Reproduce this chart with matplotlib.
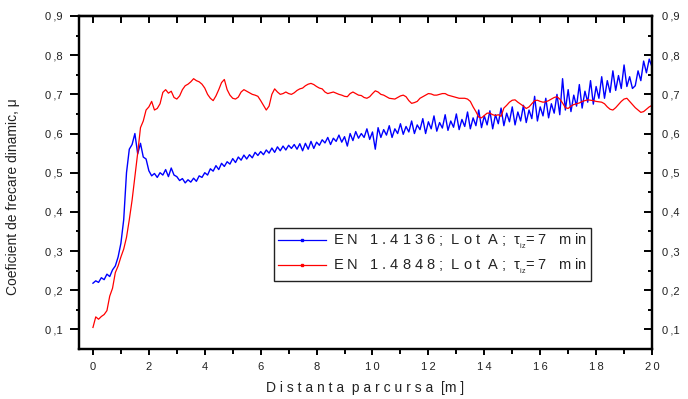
import numpy as np
import matplotlib.pyplot as plt
from matplotlib.lines import Line2D
from matplotlib.ticker import MultipleLocator, FixedLocator

plt.rcParams['font.family'] = ['Liberation Sans', 'DejaVu Sans']
plt.rcParams['mathtext.fontset'] = 'custom'
plt.rcParams['mathtext.rm'] = 'Liberation Sans'

# distanta parcursa [m], pas de 0.1 m
distanta = np.linspace(0, 20, 201)

# EN 1.4136; Lot A
mu_4136 = [
    0.218, 0.224, 0.220, 0.232, 0.227, 0.241, 0.235, 0.252, 0.262, 0.285,
    0.320, 0.380, 0.500, 0.560, 0.572, 0.600, 0.548, 0.575, 0.540, 0.535,
    0.505, 0.492, 0.498, 0.488, 0.500, 0.494, 0.508, 0.490, 0.512, 0.494,
    0.490, 0.480, 0.485, 0.474, 0.482, 0.476, 0.486, 0.478, 0.492, 0.488,
    0.500, 0.494, 0.510, 0.504, 0.518, 0.508, 0.524, 0.516, 0.528, 0.522,
    0.536, 0.526, 0.540, 0.532, 0.545, 0.535, 0.546, 0.538, 0.552, 0.544,
    0.554, 0.546, 0.558, 0.550, 0.563, 0.552, 0.566, 0.556, 0.568, 0.558,
    0.570, 0.562, 0.572, 0.560, 0.574, 0.556, 0.575, 0.560, 0.580, 0.562,
    0.578, 0.570, 0.584, 0.576, 0.590, 0.572, 0.588, 0.580, 0.596, 0.578,
    0.592, 0.568, 0.600, 0.582, 0.605, 0.588, 0.600, 0.590, 0.612, 0.585,
    0.604, 0.560, 0.615, 0.590, 0.610, 0.596, 0.620, 0.590, 0.612, 0.600,
    0.625, 0.598, 0.618, 0.604, 0.632, 0.600, 0.622, 0.610, 0.638, 0.600,
    0.630, 0.612, 0.645, 0.606, 0.628, 0.614, 0.648, 0.608, 0.632, 0.616,
    0.650, 0.610, 0.636, 0.618, 0.655, 0.612, 0.640, 0.620, 0.660, 0.615,
    0.645, 0.622, 0.658, 0.612, 0.648, 0.625, 0.665, 0.620, 0.652, 0.630,
    0.668, 0.622, 0.655, 0.632, 0.672, 0.628, 0.660, 0.638, 0.695, 0.632,
    0.668, 0.645, 0.690, 0.640, 0.676, 0.652, 0.700, 0.648, 0.740, 0.660,
    0.712, 0.656, 0.698, 0.670, 0.725, 0.665, 0.708, 0.680, 0.735, 0.675,
    0.720, 0.690, 0.745, 0.690, 0.735, 0.705, 0.760, 0.710, 0.748, 0.715,
    0.775, 0.720, 0.745, 0.715, 0.722, 0.760, 0.735, 0.785, 0.755, 0.790,
    0.770,
]

# EN 1.4848; Lot A
mu_4848 = [
    0.105, 0.132, 0.126, 0.133, 0.138, 0.148, 0.185, 0.205, 0.245, 0.262,
    0.285, 0.305, 0.335, 0.380, 0.430, 0.490, 0.550, 0.615, 0.632, 0.660,
    0.668, 0.682, 0.660, 0.664, 0.676, 0.705, 0.712, 0.703, 0.708, 0.692,
    0.688, 0.696, 0.712, 0.722, 0.726, 0.732, 0.740, 0.735, 0.732, 0.726,
    0.716, 0.700, 0.690, 0.684, 0.696, 0.712, 0.730, 0.738, 0.712, 0.698,
    0.690, 0.688, 0.693, 0.706, 0.712, 0.708, 0.704, 0.700, 0.698, 0.695,
    0.684, 0.672, 0.660, 0.670, 0.700, 0.714, 0.706, 0.700, 0.702, 0.706,
    0.702, 0.700, 0.704, 0.710, 0.714, 0.716, 0.722, 0.726, 0.728, 0.725,
    0.720, 0.716, 0.714, 0.706, 0.702, 0.704, 0.706, 0.703, 0.700, 0.698,
    0.695, 0.694, 0.702, 0.706, 0.702, 0.698, 0.697, 0.692, 0.690, 0.694,
    0.702, 0.709, 0.706, 0.700, 0.698, 0.694, 0.690, 0.689, 0.688, 0.692,
    0.696, 0.698, 0.694, 0.684, 0.677, 0.679, 0.682, 0.690, 0.694, 0.698,
    0.702, 0.701, 0.698, 0.698, 0.700, 0.702, 0.702, 0.698, 0.696, 0.694,
    0.692, 0.690, 0.690, 0.690, 0.688, 0.682, 0.668, 0.656, 0.642, 0.640,
    0.646, 0.652, 0.652, 0.648, 0.646, 0.648, 0.644, 0.665, 0.672, 0.680,
    0.685, 0.686, 0.680, 0.675, 0.670, 0.664, 0.668, 0.676, 0.684, 0.685,
    0.682, 0.680, 0.681, 0.684, 0.688, 0.692, 0.694, 0.688, 0.678, 0.666,
    0.664, 0.670, 0.674, 0.676, 0.678, 0.682, 0.684, 0.686, 0.685, 0.684,
    0.682, 0.681, 0.680, 0.676, 0.668, 0.662, 0.660, 0.666, 0.674, 0.682,
    0.688, 0.690, 0.682, 0.674, 0.666, 0.660, 0.654, 0.656, 0.662, 0.668,
    0.672,
]

x_ticks = [0, 2, 4, 6, 8, 10, 12, 14, 16, 18, 20]
x_tick_labels = ['0', '2', '4', '6', '8', '1\u20090', '1\u20092', '1\u20094',
                 '1\u20096', '1\u20098', '2\u20090']
y_ticks = [0.1, 0.2, 0.3, 0.4, 0.5, 0.6, 0.7, 0.8, 0.9]
y_tick_labels = ['0\u2009,1', '0\u2009,2', '0\u2009,3', '0\u2009,4', '0\u2009,5',
                 '0\u2009,6', '0\u2009,7', '0\u2009,8', '0\u2009,9']

etichete = ['E N   1 . 4 1 3 6 ;  L o t  A ;  $\\mathregular{\\tau_{_{iz}}}$= 7   m in',
            'E N   1 . 4 8 4 8 ;  L o t  A ;  $\\mathregular{\\tau_{_{iz}}}$= 7   m in']
culori = ['#0000ff', '#ff0000']

fig = plt.figure(figsize=(6.88, 3.99), dpi=100)
ax = fig.add_axes([0.1148, 0.1253, 0.8329, 0.8346])

ax.plot(distanta, mu_4136, color=culori[0], lw=1.0)
ax.plot(distanta, mu_4848, color=culori[1], lw=0.9)

ax.set_xlim(-0.5, 20)
ax.set_ylim(0.05, 0.9)

for s in ax.spines.values():
    s.set_linewidth(1.6)

ax.set_xticks(x_ticks)
ax.set_xticklabels(x_tick_labels)
ax.xaxis.set_minor_locator(MultipleLocator(1))
ax.set_yticks(y_ticks)
ax.set_yticklabels(y_tick_labels)
ax.yaxis.set_minor_locator(FixedLocator(np.arange(0.15, 0.9, 0.1)))

ax.tick_params(axis='x', which='major', direction='out', length=4.5, width=1.4,
               pad=5, labelsize=8, labelcolor='#222222', top=False)
ax.tick_params(axis='x', which='minor', direction='out', length=3.5, width=1.4, top=False)
ax.tick_params(axis='y', which='major', direction='out', length=6.5, width=1.4,
               pad=5.5, labelsize=8, labelcolor='#222222', right=False)
ax.tick_params(axis='y', which='minor', direction='out', length=2.2, width=1.4, right=False)

# axa din dreapta, cu aceleasi valori
ax_r = ax.twinx()
ax_r.set_ylim(ax.get_ylim())
ax_r.set_yticks(y_ticks)
ax_r.set_yticklabels(y_tick_labels)
ax_r.yaxis.set_minor_locator(FixedLocator(np.arange(0.15, 0.9, 0.1)))
ax_r.tick_params(axis='y', which='major', direction='in', length=5.8, width=1.4,
                 pad=7, labelsize=8, labelcolor='#222222')
ax_r.tick_params(axis='y', which='minor', direction='in', length=2.9, width=1.4)
for s in ax_r.spines.values():
    s.set_linewidth(1.6)

# axa de sus, fara etichete
ax_t = ax.secondary_xaxis('top')
ax_t.set_xticks(x_ticks)
ax_t.xaxis.set_minor_locator(MultipleLocator(1))
ax_t.tick_params(which='both', direction='in', length=5, width=1.4, labeltop=False)
ax_t.spines['top'].set_linewidth(1.6)

ax.set_xlabel('D i s t a n t a  p a r c u r s a  [m ]', fontsize=10, color='#222222')
ax.xaxis.set_label_coords(0.5, -0.095)
ax.set_ylabel('Coeficient de frecare dinamic, \u03bc', fontsize=10, color='#222222')
ax.yaxis.set_label_coords(-0.103, 0.458)

handles = [Line2D([], [], color=c, lw=0.9, marker='s', ms=1.5) for c in culori]
leg = ax.legend(handles, etichete, loc='upper left', bbox_to_anchor=(0.340, 0.363),
                borderaxespad=0, fontsize=10.5, fancybox=False, framealpha=1,
                edgecolor='#222222', handlelength=3.3, handletextpad=0.45,
                numpoints=1, labelspacing=0.42, borderpad=0.28)
leg.get_frame().set_linewidth(1.0)
for t in leg.get_texts():
    t.set_color('#222222')

fig.savefig('out.png', dpi=100)
